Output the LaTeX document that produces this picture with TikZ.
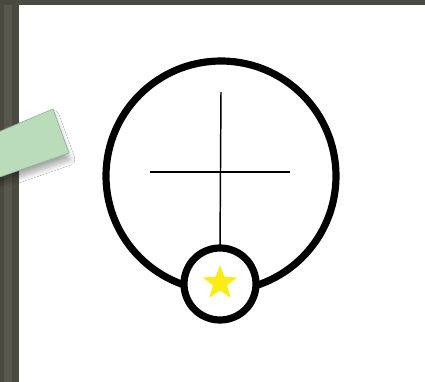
\documentclass[tikz,border=0pt]{standalone}
\usetikzlibrary{shapes.geometric,shadows.blur}
\definecolor{frame}{RGB}{74,74,64}
\definecolor{frameb}{RGB}{88,88,76}
\definecolor{notegreen}{RGB}{186,220,186}
\definecolor{staryellow}{RGB}{250,236,20}
\tikzset{
  ring/.style={circle,draw=black,line width=5.4pt,inner sep=0pt,outer sep=0pt},
  crossline/.style={draw=black,line width=1.1pt},
}
\begin{document}
\begin{tikzpicture}[x=0.75pt,y=-0.75pt]
\useasboundingbox (0,0) rectangle (425,382);
\fill[frame] (0,0) rectangle (425,382);
\fill[frameb] (4,5) rectangle (12,382);
\fill[white] (19,5) rectangle (425,382);
% green note, partly off picture
\begin{scope}
\clip (0,0) rectangle (425,382);
\fill[notegreen,draw=notegreen!80!black,line width=0.5pt,
      blur shadow={shadow xshift=0.5pt,shadow yshift=-5pt,shadow blur radius=4pt,shadow blur steps=10,shadow opacity=35}]
  (53,109) -- (69,153) -- (-26,186) -- (-42,149) -- cycle;
\end{scope}
% big circle
\node[ring,minimum size=230*0.75pt] (big) at (221,176) {};
% cross
\coordinate (vtop) at (221,92);
\coordinate (hl) at (150,172);
\coordinate (hr) at (290,172);
\draw[crossline] (hl) -- (hr);
% small circle
\node[ring,fill=white,minimum size=72*0.75pt] (small) at (220,284) {};
\draw[crossline] (vtop) -- (small.north);
% star
\node[star,star points=5,star point ratio=2.4,fill=staryellow,inner sep=0pt,
      minimum size=36*0.75pt] (st) at (220,283) {};
\end{tikzpicture}
\end{document}
